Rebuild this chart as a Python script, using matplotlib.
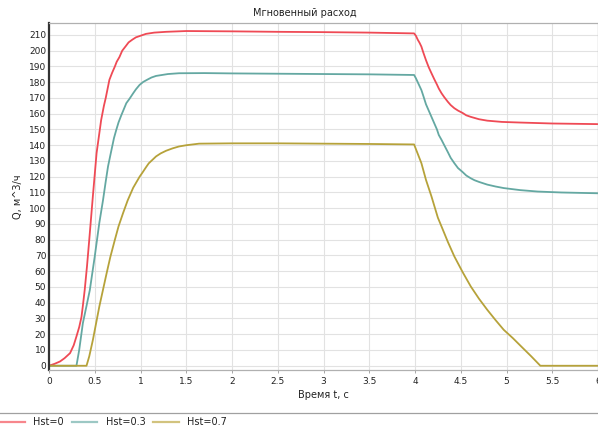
import matplotlib
matplotlib.use("Agg")
import matplotlib.pyplot as plt
from matplotlib.lines import Line2D
from matplotlib.patches import Rectangle

# ---- data ----
t_h0 = [0, 0.06, 0.12, 0.17, 0.23, 0.27, 0.30, 0.33, 0.355, 0.37, 0.39, 0.415, 0.44, 0.48,
        0.52, 0.57, 0.60, 0.62, 0.66, 0.69, 0.72, 0.74, 0.77, 0.80, 0.84, 0.87, 0.91, 0.95,
        1.0, 1.06, 1.15, 1.28, 1.5, 2.0, 2.5, 3.0, 3.5, 3.99, 4.01, 4.03, 4.05, 4.07, 4.09,
        4.12, 4.15, 4.18, 4.21, 4.24, 4.26, 4.29, 4.32, 4.36, 4.39, 4.43, 4.47, 4.52, 4.56,
        4.61, 4.7, 4.79, 4.95, 5.15, 5.5, 6.0]
q_h0 = [0, 1.2, 2.7, 4.8, 8, 13, 18.6, 24.5, 31, 38, 48, 63, 80, 108,
        135, 156, 165, 170, 181.5, 186, 190, 193, 196, 200, 203, 205.3, 207, 208.5,
        209.5, 210.7, 211.5, 212, 212.5, 212.3, 212, 211.8, 211.5, 211, 209.5, 207, 205, 202.6, 199,
        194, 189.5, 185.7, 182, 178.5, 176, 173, 170.5, 167.5, 165.5, 163.5, 162, 160.5, 159,
        158, 156.5, 155.6, 154.8, 154.4, 153.8, 153.4]

t_h03 = [0, 0.30, 0.33, 0.37, 0.41, 0.446, 0.5, 0.55, 0.59, 0.62, 0.645, 0.67, 0.69, 0.71,
         0.735, 0.76, 0.79, 0.82, 0.845, 0.88, 0.92, 0.95, 0.99, 1.03, 1.08, 1.12, 1.17, 1.3,
         1.42, 1.7, 2.0, 2.5, 3.0, 3.5, 3.99, 4.01, 4.03, 4.05, 4.07, 4.09, 4.12, 4.15, 4.18,
         4.21, 4.24, 4.26, 4.29, 4.32, 4.36, 4.39, 4.43, 4.47, 4.52, 4.56, 4.61, 4.65, 4.7,
         4.79, 4.88, 4.97, 5.15, 5.34, 5.6, 6.0]
q_h03 = [0, 0, 10, 27, 38, 48, 69.4, 90.7, 105, 117, 126.5, 133.5, 139, 144.5,
         149.7, 154.5, 159, 163.2, 166.7, 169.5, 173, 175.5, 178.3, 180.2, 181.8, 183, 184, 185.2,
         185.7, 185.8, 185.6, 185.4, 185.2, 185, 184.6, 182.5, 180, 177.5, 175, 171.5, 166, 162, 158,
         154, 150, 146.5, 143.4, 140, 135.5, 132, 128.6, 125.5, 123, 120.8, 119, 117.8, 116.7,
         115, 113.8, 112.8, 111.5, 110.6, 110, 109.5]

t_h07 = [0, 0.41, 0.44, 0.48, 0.55, 0.63, 0.67, 0.72, 0.76, 0.81, 0.86, 0.89, 0.92, 0.95,
         0.99, 1.02, 1.06, 1.09, 1.13, 1.17, 1.22, 1.28, 1.35, 1.42, 1.5, 1.64, 2.0, 2.5,
         3.0, 3.5, 3.99, 4.07, 4.12, 4.18, 4.25, 4.29, 4.36, 4.43, 4.52, 4.61, 4.7, 4.79,
         4.88, 4.97, 5.07, 5.16, 5.27, 5.37, 6.0]
q_h07 = [0, 0, 6, 16.5, 37.6, 58.8, 69, 80, 88.5, 97, 105, 109, 113, 116,
         120, 122.5, 126, 128.5, 130.7, 132.9, 134.8, 136.5, 138, 139.2, 140, 141, 141.2, 141.2,
         141, 140.8, 140.5, 128.6, 118, 107.5, 94, 88.4, 78.5, 69.4, 59.5, 50.3, 42.5, 35.5,
         29, 22.8, 17.5, 12.3, 6, 0, 0]

labels = ["Hst=0", "Hst=0.3", "Hst=0.7"]
colors = ["#ef4a55", "#64a8a2", "#b6a23a"]
legend_colors = ["#f7868c", "#9cc8c4", "#d2c37e"]

title = "Мгновенный расход"
xlabel = "Время t, с"
ylabel = "Q, м^3/ч"
xticks = [0, 0.5, 1, 1.5, 2, 2.5, 3, 3.5, 4, 4.5, 5, 5.5, 6]
yticks = list(range(0, 211, 10))

# ---- figure ----
fig = plt.figure(figsize=(5.98, 4.30), dpi=100)
ax = fig.add_axes([49 / 598, 1 - 370 / 430, 1 - 49 / 598, (370 - 23) / 430])

for t, q, c in zip([t_h0, t_h03, t_h07], [q_h0, q_h03, q_h07], colors):
    ax.plot(t, q, color=c, lw=1.3, solid_joinstyle="round")

ax.set_xlim(0, 6)
ax.set_ylim(-2.7, 217.6)
ax.set_xticks(xticks)
ax.set_xticklabels([("%g" % v) for v in xticks])
ax.set_yticks(yticks)
ax.grid(True, color="#e2e2e2", lw=0.8)
ax.set_axisbelow(True)
ax.tick_params(axis="both", labelsize=6.5, colors="#333333", length=2, width=0.6,
               labelcolor="#222222")
ax.tick_params(axis="x", pad=3, color="#999999")
ax.tick_params(axis="y", pad=2, length=0)
for s in ["top", "right", "bottom"]:
    ax.spines[s].set_color("#b0b0b0")
    ax.spines[s].set_linewidth(0.9)
ax.spines["left"].set_color("#333333")
ax.spines["left"].set_linewidth(1.6)

ax.set_xlabel(xlabel, fontsize=7, color="#222222", labelpad=3)
ax.set_ylabel(ylabel, fontsize=7, color="#222222", labelpad=4)
fig.text(0.51, 1 - 13 / 430, title, fontsize=7, color="#222222", ha="center", va="center")

# legend box
fig.patches.append(Rectangle((-0.01, -0.05), 1.02, (430 - 413) / 430 + 0.05,
                             transform=fig.transFigure, fill=False,
                             edgecolor="#a0a0a0", lw=0.9))
handles = [Line2D([], [], color=c, lw=1.6) for c in legend_colors]
fig.legend(handles, labels, loc="center left", bbox_to_anchor=(-0.001, 1 - 422 / 430),
           ncol=3, frameon=False, fontsize=7, handlelength=2.6, handletextpad=0.9,
           columnspacing=0.8, borderpad=0, borderaxespad=0, labelcolor="#222222")

fig.savefig("out.png", dpi=100)
